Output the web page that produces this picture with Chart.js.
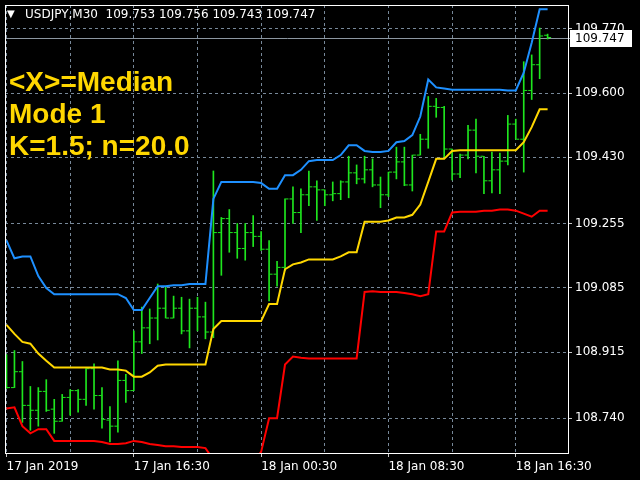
<!DOCTYPE html>
<html>
<head>
<meta charset="utf-8">
<script src="https://cdn.jsdelivr.net/npm/chart.js@4.4.1/dist/chart.umd.min.js"></script>
<style>
  html, body { margin: 0; padding: 0; background: #000; }
  #wrap { position: relative; width: 640px; height: 480px; }
  #tri { position: absolute; left: 7px; top: 8px; color: #fff; font: 10px 'DejaVu Sans', sans-serif; line-height: 12px; }
  #header { position: absolute; left: 25px; top: 7px; color: #fff; font: 12px 'DejaVu Sans', sans-serif; line-height: 14px; white-space: pre; }
  #note { position: absolute; left: 9px; top: 66px; color: #ffd700; font: bold 28px 'Liberation Sans', Arial, sans-serif; line-height: 32px; }
</style>
</head>
<body>
<div id="wrap">
  <canvas id="chart" width="640" height="480"></canvas>
  <div id="tri">▼</div>
  <div id="header"></div>
  <div id="note">&lt;X&gt;=Median<br>Mode 1<br>K=1.5; n=20.0</div>
</div>
<script>
// USDJPY M30, one entry per bar
const symbol = 'USDJPY,M30';
const xTickLabels = ['17 Jan 2019', '', '17 Jan 16:30', '', '18 Jan 00:30', '', '18 Jan 08:30', '', '18 Jan 16:30'];
const yTicks = [108.740, 108.915, 109.085, 109.255, 109.430, 109.600, 109.770];

const barOpen = [108.853,108.821,108.863,108.774,108.761,108.811,108.764,108.732,108.795,108.813,
  108.790,108.871,108.800,108.735,108.719,108.840,108.813,108.942,108.979,109.005,
  109.031,109.005,109.031,108.971,109.031,109.008,108.968,109.231,109.268,109.231,
  109.189,109.231,109.221,109.187,109.121,109.139,109.320,109.284,109.331,109.352,
  109.344,109.331,109.334,109.365,109.389,109.373,109.397,109.357,109.331,109.391,
  109.418,109.357,109.436,109.478,109.565,109.562,109.452,109.386,109.436,109.502,
  109.433,109.368,109.397,109.420,109.518,109.478,109.607,109.675,109.753];
const barHigh = [108.908,108.919,108.890,108.824,108.821,108.842,108.790,108.803,108.816,108.816,
  108.871,108.884,108.821,108.771,108.892,108.856,108.971,109.034,109.029,109.095,
  109.087,109.063,109.060,109.055,109.060,109.047,109.394,109.271,109.292,109.255,
  109.255,109.276,109.234,109.210,109.155,109.320,109.352,109.347,109.394,109.368,
  109.344,109.365,109.368,109.433,109.410,109.433,109.426,109.378,109.391,109.457,
  109.457,109.436,109.491,109.591,109.586,109.565,109.452,109.439,109.515,109.531,
  109.433,109.444,109.441,109.541,109.531,109.683,109.701,109.772,109.756];
const barLow = [108.819,108.821,108.729,108.708,108.719,108.758,108.700,108.732,108.748,108.756,
  108.774,108.764,108.714,108.677,108.703,108.782,108.813,108.911,108.937,108.947,
  109.005,109.005,108.963,108.926,108.971,108.950,108.953,109.118,109.179,109.163,
  109.158,109.194,109.184,109.050,109.089,109.131,109.255,109.231,109.302,109.263,
  109.302,109.315,109.318,109.323,109.360,109.362,109.352,109.297,109.326,109.373,
  109.355,109.341,109.436,109.454,109.536,109.431,109.370,109.376,109.426,109.389,
  109.334,109.336,109.334,109.410,109.478,109.391,109.583,109.638,109.743];
const barClose = [108.821,108.863,108.774,108.761,108.811,108.761,108.732,108.795,108.813,108.790,
  108.871,108.800,108.737,108.719,108.840,108.813,108.942,108.979,109.005,109.031,
  109.005,109.031,108.971,109.031,109.008,108.968,109.231,109.268,109.231,109.189,
  109.231,109.221,109.187,109.121,109.139,109.320,109.284,109.331,109.352,109.344,
  109.331,109.334,109.365,109.389,109.373,109.397,109.357,109.331,109.391,109.418,
  109.357,109.436,109.478,109.565,109.562,109.452,109.386,109.436,109.502,109.433,
  109.368,109.397,109.420,109.518,109.478,109.607,109.675,109.751,109.747];

// indicator bands
const upperBand = [109.210,109.163,109.168,109.168,109.116,109.084,109.068,109.068,109.068,109.068,
  109.068,109.068,109.068,109.068,109.068,109.058,109.026,109.026,109.058,109.089,
  109.089,109.092,109.092,109.095,109.095,109.095,109.320,109.365,109.365,109.365,
  109.365,109.365,109.362,109.347,109.347,109.383,109.383,109.397,109.420,109.423,
  109.423,109.423,109.436,109.462,109.462,109.447,109.444,109.444,109.447,109.470,
  109.473,109.489,109.538,109.636,109.615,109.612,109.609,109.609,109.609,109.609,
  109.609,109.609,109.609,109.607,109.607,109.654,109.733,109.822,109.822];
const middleBand = [108.987,108.963,108.942,108.937,108.911,108.892,108.874,108.874,108.874,108.874,
  108.874,108.874,108.874,108.869,108.869,108.866,108.850,108.850,108.861,108.879,
  108.882,108.882,108.882,108.882,108.882,108.882,108.976,108.997,108.997,108.997,
  108.997,108.997,108.997,109.042,109.042,109.134,109.147,109.152,109.160,109.160,
  109.160,109.160,109.168,109.179,109.179,109.260,109.260,109.260,109.263,109.271,
  109.271,109.278,109.305,109.365,109.426,109.426,109.447,109.449,109.449,109.449,
  109.449,109.449,109.449,109.449,109.449,109.470,109.510,109.557,109.557];
const lowerBand = [108.766,108.769,108.719,108.700,108.711,108.711,108.680,108.680,108.680,108.680,
  108.680,108.680,108.677,108.672,108.672,108.674,108.680,108.677,108.672,108.669,
  108.666,108.666,108.664,108.664,108.664,108.661,108.630,108.624,108.624,108.624,
  108.624,108.624,108.651,108.740,108.740,108.882,108.903,108.900,108.898,108.898,
  108.898,108.898,108.898,108.898,108.898,109.074,109.076,109.074,109.074,109.074,
  109.071,109.068,109.063,109.068,109.234,109.234,109.284,109.286,109.286,109.286,
  109.289,109.289,109.292,109.292,109.289,109.281,109.273,109.289,109.289];

const last = barClose.length - 1;
const lastPrice = barClose[last];
document.getElementById('header').textContent = symbol + '  ' +
  [barOpen[last], barHigh[last], barLow[last], barClose[last]].map(v => v.toFixed(3)).join(' ');

const barColor = '#1ee61e';
const gridColor = '#778899';

const toPoints = arr => arr.map((v, i) => ({ x: i, y: v }));
const lineSet = (arr, color) => ({
  type: 'line', data: toPoints(arr), borderColor: color, borderWidth: 2,
  pointRadius: 0, tension: 0, order: 0
});
const tickSet = (arr, shift) => ({
  type: 'line', data: arr.map((v, i) => ({ x: i + shift, y: v })), showLine: false,
  pointStyle: 'line', pointRadius: 1.5, borderColor: barColor, borderWidth: 1, order: 2
});

const framePlugin = {
  id: 'frame',
  beforeDatasetsDraw(chart) {
    const { ctx, chartArea: a, scales: { y } } = chart;
    const py = Math.round(y.getPixelForValue(lastPrice)) + 0.5;
    ctx.save();
    ctx.strokeStyle = '#8c96a0';
    ctx.lineWidth = 1;
    ctx.beginPath();
    ctx.moveTo(a.left, py);
    ctx.lineTo(a.right + 2, py);
    ctx.stroke();
    ctx.restore();
  },
  afterDraw(chart) {
    const { ctx, chartArea: a, scales: { y } } = chart;
    ctx.save();
    ctx.strokeStyle = '#fff';
    ctx.lineWidth = 1;
    ctx.strokeRect(a.left + 0.5, a.top + 0.5, a.right - a.left, a.bottom - a.top);
    const py = Math.round(y.getPixelForValue(lastPrice));
    ctx.fillStyle = '#fff';
    ctx.fillRect(a.right + 2, py - 8, 62, 17);
    ctx.fillStyle = '#000';
    ctx.font = '12px "DejaVu Sans"';
    ctx.textBaseline = 'middle';
    ctx.fillText(lastPrice.toFixed(3), a.right + 7, py + 1);
    ctx.restore();
  }
};

// keep the plot box fixed: no extra room for half-labels at the ends
const noPad = s => { s.paddingTop = 0; s.paddingBottom = 0; s.paddingLeft = 0; s.paddingRight = 0; };

Chart.defaults.font.family = 'DejaVu Sans';
Chart.defaults.font.size = 12;
Chart.defaults.color = '#fff';

new Chart(document.getElementById('chart'), {
  type: 'bar',
  data: {
    datasets: [
      lineSet(upperBand, '#1e90ff'),
      lineSet(middleBand, '#ffd700'),
      lineSet(lowerBand, '#ff0000'),
      {
        type: 'bar', data: barLow.map((v, i) => ({ x: i, y: [v, barHigh[i]] })),
        backgroundColor: barColor, borderWidth: 0, barThickness: 1, order: 1
      },
      tickSet(barOpen, -0.25),
      tickSet(barClose, 0.25)
    ]
  },
  options: {
    responsive: false,
    animation: false,
    events: [],
    layout: { padding: { left: 2, top: 2, right: 0, bottom: 0 } },
    plugins: { legend: { display: false }, tooltip: { enabled: false } },
    scales: {
      x: {
        type: 'linear', min: -0.1875, max: 70.5625, offset: false,
        grid: {
          color: gridColor, offset: false, tickLength: 4,
          tickColor: c => (c.index % 2 === 0 ? '#c8c8c8' : 'rgba(0,0,0,0)')
        },
        border: { display: false, dash: [3, 3] },
        ticks: {
          color: '#fff', align: 'start', autoSkip: false, maxRotation: 0, padding: 3,
          callback: v => xTickLabels[v / 8] || ''
        },
        afterBuildTicks: s => { s.ticks = xTickLabels.map((_, k) => ({ value: k * 8 })); },
        afterFit: s => { s.height = 27; noPad(s); }
      },
      y: {
        position: 'right', min: 108.648, max: 109.833,
        grid: { color: gridColor, tickLength: 4, tickColor: '#c8c8c8' },
        border: { display: false, dash: [3, 3] },
        ticks: { color: '#fff', padding: 3, callback: v => v.toFixed(3) },
        afterBuildTicks: s => { s.ticks = yTicks.map(v => ({ value: v })); },
        afterFit: s => { s.width = 72; noPad(s); }
      }
    }
  },
  plugins: [framePlugin]
});
</script>
</body>
</html>
